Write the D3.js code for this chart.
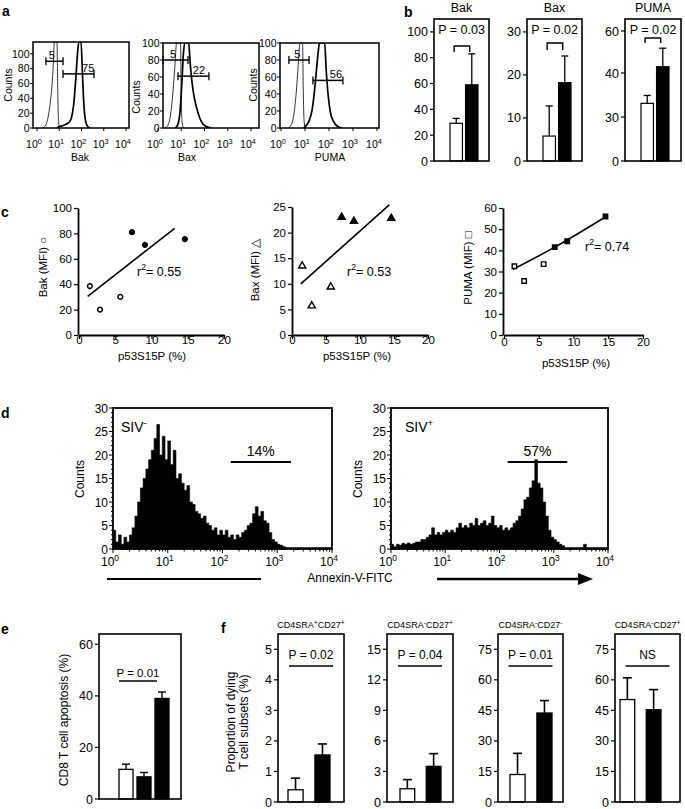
<!DOCTYPE html>
<html><head><meta charset="utf-8">
<script src="https://cdn.jsdelivr.net/npm/d3@7"></script>
<style>
body{margin:0;background:#fff;}
svg{display:block;font-family:"Liberation Sans",Arial,Helvetica,sans-serif;}
</style></head><body>
<svg id="fig" width="685" height="809"></svg>
<script>
// ================= DATA =================
// Panel a: flow histogram outlines, [log10 intensity, counts]
const aMarkers = ["Bak", "Bax", "PUMA"];
const aControlBak = [[0.25,0],[0.4,4],[0.5,15],[0.6,35],[0.68,60],[0.74,90],[0.78,116],[0.9,116],[0.93,55],[0.97,8],[1.02,0]];
const aSampleBak  = [[0.9,0],[1.0,2],[1.15,3],[1.3,5],[1.45,8],[1.55,14],[1.65,32],[1.74,65],[1.82,100],[1.88,116],[1.98,116],[2.04,75],[2.1,35],[2.18,10],[2.28,2],[2.4,0]];
const aControlBax = [[0.3,0],[0.42,3],[0.52,12],[0.62,35],[0.72,70],[0.8,100],[0.97,100],[1.0,35],[1.04,6],[1.1,0]];
const aSampleBax  = [[0.75,0],[0.85,4],[0.95,20],[1.03,55],[1.1,90],[1.15,100],[1.32,100],[1.38,78],[1.48,50],[1.58,33],[1.68,22],[1.78,13],[1.88,7],[2.0,3],[2.15,1],[2.3,0]];
const aControlPuma = [[0.3,0],[0.43,4],[0.53,15],[0.63,40],[0.72,75],[0.79,100],[0.9,100],[0.93,40],[0.97,6],[1.02,0]];
const aSamplePuma  = [[0.95,0],[1.05,3],[1.18,9],[1.3,22],[1.4,45],[1.5,75],[1.56,92],[1.6,100],[1.82,100],[1.88,70],[1.96,40],[2.06,18],[2.18,8],[2.35,2],[2.55,0]];
const aControlGate = [[0.4,1.17,90],[0.22,1.29,80],[0.33,1.17,80]];   // [from, to, level]
const aSampleGate  = [[1.17,2.56,73],[0.86,2.19,61],[1.33,2.58,56]];
const aControlPct = ["5","5","5"];
const aSamplePct  = ["75","22","56"];
const aControlPctAt = [0.67,0.65,0.68];
const aSamplePctAt  = [2.3,1.76,2.29];
const aYTicks = [0,20,40,60,80,100];
const aXTicks = [0,1,2,3,4];

// Panel b: mean MFI, SIV- (white) vs SIV+ (black)
const bTitles = ["Bak", "Bax", "PUMA"];
const bWhite   = [29.2, 5.8, 33.1];
const bWhiteSd = [3.8, 7.0, 1.8];
const bBlack   = [59, 18.2, 43];
const bBlackSd = [24, 6.2, 8.8];
const bP = ["P = 0.03", "P = 0.02", "P = 0.02"];
const bTicks = [[0,20,40,60,80,100],[0,10,20,30],[0,30,40,60]];

// Panel c: p53S15P (%) vs MFI
const cP53  = [1.5, 2.9, 5.7, 7.3, 9.1, 14.6];
const cBak  = [38.5, 20, 30, 81, 71, 75.5];
const cBax  = [13.5, 5.7, 9.4, 23, 22.2, 22.8];
const cPuma = [32.5, 25.5, 33.5, 41.5, 44.3, 56];
const cFilled = [false, false, false, true, true, true];
const cFitBak  = [[1.2,30.5],[13.2,84]];
const cFitBax  = [[1.3,10],[14.3,25.4]];
const cFitPuma = [[1.3,31],[7.3,41.5],[14.7,56]];
const cR2 = ["0.55", "0.53", "0.74"];
const cYLabels = ["Bak (MFI) \u25CB", "Bax (MFI) \u25B3", "PUMA (MIF) \u25A1"];
const cYTicks = [[0,20,40,60,80,100],[0,5,10,15,20,25],[0,10,20,30,40,50,60]];
const cXTicks = [0,5,10,15,20];

// Panel d: Annexin-V histograms, counts per 0.05 log10 bin from 10^0
const dSIVneg = [4,1.5,3,1,2.5,1.5,3,4.5,7,10,13,15,17,19,21,23.5,26.5,20,24,19,23,18,21,15,16,14,12.5,13.5,10,9.5,
  8,7.5,6.5,7,5.5,5,4,4.5,3,4,3,4,2.5,3,2,3,2.5,3.5,4,5,5.5,7.5,9,7,8,6,5.5,3.5,2,1.5,
  1,0.8,0.5,0.3,0.3,0.3,0.3,0.3,0.3,0.3,0.3,0.3,0.3,0.3,0.3,0.3,0.3,0.3,0.3,0.3];
const dSIVpos = [1,0.5,1,0.8,1.2,1,1.3,1,1.2,1.5,1.5,2,2,2.5,3,4.5,3,3.5,3,3.5,4,3.5,4,3.5,4.5,5.5,4.5,5,4.5,5.5,
  5,6.5,5,5.5,6,5,5.5,7,5,4.5,5,4,4.5,4,4.5,5.5,6,7,8.5,10.5,11,13,14.5,19,14,13,10,7,4,2.5,
  2,1.5,1,0.7,0.3,0.3,0.3,0.3,0.3,0.3,0.3,1,0.3,0.3,0.3,0.3,0.3,0.3,0.3,0.3];
const dPct = ["14%", "57%"];
const dGate = [[2.15,3.25],[2.15,3.25]];
const dYTicks = [0,5,10,15,20,25,30];

// Panel e: CD8 T cell apoptosis (%)
const eGroups = ["SIV-", "SIV+ A", "SIV+ B"];
const eValues = [11.5, 8.6, 39];
const eSd = [2, 1.7, 2.5];
const eTicks = [0,20,40,60];

// Panel f: proportion of dying T cell subsets (%)
const fTitles = [["CD4SRA","+","CD27","+"],["CD4SRA","-","CD27","+"],["CD4SRA","-","CD27","-"],["CD4SRA","-","CD27","+"]];
const fWhite   = [0.4, 1.3, 13.5, 50.3];
const fWhiteSd = [0.38, 0.9, 10.4, 10.7];
const fBlack   = [1.54, 3.5, 43.7, 45.3];
const fBlackSd = [0.36, 1.25, 6.1, 9.9];
const fP = ["P = 0.02", "P = 0.04", "P = 0.01", "NS"];
const fTicks = [[0,1,2,3,4,5],[0,3,6,9,12,15],[0,15,30,45,60,75],[0,15,30,45,60,75]];
const fMax = [5.5, 16.5, 82.5, 82.5];

// ================= DRAWING =================
const FONT = '"Liberation Sans", Arial, Helvetica, sans-serif';
const svg = d3.select("#fig");
const defs = svg.append("defs");

function text(x, y, s, size, o = {}) {
  const t = svg.append("text").attr("x", x).attr("y", y).attr("font-size", size)
    .attr("text-anchor", o.anchor || "start").attr("fill", "#000").text(s);
  if (o.bold) t.attr("font-weight", "bold");
  if (o.rotate) t.attr("transform", `rotate(-90,${x},${y})`);
  return t;
}
function rich(x, y, parts, size, anchor, sup = 0.7, shift = 0.4) {
  const t = svg.append("text").attr("x", x).attr("y", y).attr("font-size", size)
    .attr("text-anchor", anchor || "start");
  let up = false;
  parts.forEach(p => {
    const isSup = typeof p === "object";
    const s = isSup ? p.sup : p;
    const sp = t.append("tspan").text(s);
    if (isSup) { sp.attr("font-size", size * sup).attr("dy", -size * shift); up = true; }
    else if (up) { sp.attr("dy", size * shift); up = false; }
  });
  return t;
}
function line(x1, y1, x2, y2, w = 1.5) {
  svg.append("line").attr("x1", x1).attr("y1", y1).attr("x2", x2).attr("y2", y2)
    .attr("stroke", "#000").attr("stroke-width", w);
}
function frame(x0, y0, x1, y1, w = 1.6) {
  svg.append("rect").attr("x", x0).attr("y", y0).attr("width", x1 - x0).attr("height", y1 - y0)
    .attr("fill", "none").attr("stroke", "#000").attr("stroke-width", w);
}
function styleAxis(g, size) {
  g.attr("font-size", size).attr("font-family", FONT);
  g.selectAll("text").attr("fill", "#000");
  g.selectAll(".tick line").attr("stroke", "#000").attr("stroke-width", 1.2);
  g.selectAll(".domain").attr("stroke", "#000").attr("stroke-width", 1.8);
}

// panel letters
[["a",2,16],["b",404,17],["c",1,217],["d",1,418],["e",1,634],["f",221,633]].forEach(([l,x,y]) =>
  text(x, y, l, 14, {bold: true}));

// ---------- Panel a ----------
const aLayout = [
  {fx0:33, fx1:129, fy0:42, fy1:128, xr:[37,126], ymax:116, cx:12, cy:85, lx:80},
  {fx0:163, fx1:259, fy0:43, fy1:128, xr:[158,251], ymax:100, cx:140, cy:97, lx:187},
  {fx0:280, fx1:379, fy0:43, fy1:128, xr:[281,377], ymax:100, cx:257, cy:85, lx:330}
];
const aCurves = [[aControlBak, aSampleBak],[aControlBax, aSampleBax],[aControlPuma, aSamplePuma]];
aLayout.forEach((L, i) => {
  const xs = d3.scaleLinear().domain([0, 4]).range(L.xr);
  const ys = d3.scaleLinear().domain([0, L.ymax]).range([L.fy1, L.fy0]);
  const cid = "clipA" + i;
  defs.append("clipPath").attr("id", cid).append("rect")
    .attr("x", L.fx0).attr("y", L.fy0).attr("width", L.fx1 - L.fx0).attr("height", L.fy1 - L.fy0);
  const ln = d3.line().x(d => xs(d[0])).y(d => ys(d[1])).curve(d3.curveMonotoneX);
  svg.append("path").attr("d", ln(aCurves[i][0])).attr("clip-path", `url(#${cid})`)
    .attr("fill", "none").attr("stroke", "#333").attr("stroke-width", 1);
  svg.append("path").attr("d", ln(aCurves[i][1])).attr("clip-path", `url(#${cid})`)
    .attr("fill", "none").attr("stroke", "#000").attr("stroke-width", 1.7);
  frame(L.fx0, L.fy0, L.fx1, L.fy1, 1.5);
  aYTicks.forEach(v => {
    line(L.fx0 - 3, ys(v), L.fx0, ys(v), 1);
    text(L.fx0 - 3.5, ys(v) + 3.8, String(v), 10.5, {anchor: "end"});
  });
  aXTicks.forEach(k => {
    line(xs(k), L.fy1, xs(k), L.fy1 + 3, 1);
    rich(xs(k) - 3, 148, ["10", {sup: String(k)}], 10.5, "middle");
  });
  text(L.cx, L.cy, "Counts", 10.5, {anchor: "middle", rotate: true});
  text(L.lx, 161, aMarkers[i], 10.5, {anchor: "middle"});
  [[aControlGate[i], aControlPct[i], aControlPctAt[i]], [aSampleGate[i], aSamplePct[i], aSamplePctAt[i]]]
    .forEach(([g, pct, at]) => {
      const gy = ys(g[2]);
      line(xs(g[0]), gy, xs(g[1]), gy, 1.5);
      line(xs(g[0]), gy - 4, xs(g[0]), gy + 4, 1.3);
      line(xs(g[1]), gy - 4, xs(g[1]), gy + 4, 1.3);
      text(xs(at), gy - 2, pct, 11, {anchor: "middle"});
    });
});

// ---------- Panel b ----------
const bLayout = [
  {x0:434, x1:489, by:46, bh:6},
  {x0:527, x1:582, by:43, bh:7},
  {x0:625, x1:681, by:38, bh:5}
];
const bScales = [
  d3.scaleLinear().domain([0, 110]).range([161, 19]),
  d3.scaleLinear().domain([0, 33]).range([161, 19]),
  d3.scaleLinear().domain([0, 30, 40, 60]).range([161, 117, 73, 31])
];
bLayout.forEach((L, i) => {
  const ys = bScales[i];
  const xb = d3.scaleBand().domain(["SIV-", "SIV+"]).range([L.x0 + 16, L.x0 + 44]).paddingInner(0.2);
  const bw = xb.bandwidth();
  const vals = [[bWhite[i], bWhiteSd[i], "#fff"], [bBlack[i], bBlackSd[i], "#000"]];
  ["SIV-", "SIV+"].forEach((k, j) => {
    const [v, sd, col] = vals[j];
    const cx = xb(k) + bw / 2;
    line(cx, ys(v), cx, ys(v + sd), 1.3);
    line(cx - 3.5, ys(v + sd), cx + 3.5, ys(v + sd), 1.3);
    svg.append("rect").attr("x", xb(k)).attr("y", ys(v)).attr("width", bw).attr("height", ys(0) - ys(v))
      .attr("fill", col).attr("stroke", "#000").attr("stroke-width", 1.2);
  });
  frame(L.x0, 19, L.x1, 161, 1.6);
  bTicks[i].forEach(v => {
    line(L.x0 - 4, ys(v), L.x0, ys(v), 1.2);
    text(L.x0 - 6, ys(v) + 4.5, String(v), 12.5, {anchor: "end"});
  });
  const cxm = (L.x0 + L.x1) / 2;
  text(cxm, 12, bTitles[i], 12.5, {anchor: "middle"});
  text(cxm, 34, bP[i], 12.5, {anchor: "middle"});
  const a1 = xb("SIV-") + bw / 3, a2 = xb("SIV+") + bw / 3;
  svg.append("path").attr("d", `M${a1},${L.by + L.bh}V${L.by}H${a2}V${L.by + L.bh}`)
    .attr("fill", "none").attr("stroke", "#000").attr("stroke-width", 1.4);
});

// ---------- Panel c ----------
const cLayout = [
  {ax:78, xr:[79, 224], top:208, ylx:47, yly:267, lblx:152, lbly:360, tly:350, r2x:137, r2y:276},
  {ax:292, xr:[292, 428], top:207, ylx:259, yly:270, lblx:357, lbly:360, tly:350, r2x:347, r2y:276},
  {ax:503, xr:[504, 643], top:208, ylx:472, yly:268, lblx:576, lbly:367, tly:352, r2x:585, r2y:251}
];
const cY = [cBak, cBax, cPuma];
const cFits = [cFitBak, cFitBax, cFitPuma];
const cYMax = [100, 25, 60];
cLayout.forEach((L, i) => {
  const xs = d3.scaleLinear().domain([0, 20]).range(L.xr);
  const ys = d3.scaleLinear().domain([0, cYMax[i]]).range([335, L.top]);
  const gx = svg.append("g").attr("transform", "translate(0,335)")
    .call(d3.axisBottom(xs).tickValues(cXTicks).tickSize(4).tickSizeOuter(0).tickPadding(2));
  styleAxis(gx, 11.5);
  gx.selectAll("text").attr("dy", L.tly - 335 - 12);
  const gy = svg.append("g").attr("transform", `translate(${L.ax},0)`)
    .call(d3.axisLeft(ys).tickValues(cYTicks[i]).tickSize(4).tickSizeOuter(0).tickPadding(2));
  styleAxis(gy, 11.5);
  text(L.lblx, L.lbly, "p53S15P (%)", 11.5, {anchor: "middle"});
  text(L.ylx, L.yly, cYLabels[i], 11.5, {anchor: "middle", rotate: true});
  const fit = d3.line().x(d => xs(d[0])).y(d => ys(d[1])).curve(d3.curveMonotoneX);
  svg.append("path").attr("d", fit(cFits[i])).attr("fill", "none").attr("stroke", "#000").attr("stroke-width", 1.6);
  const sym = [d3.symbolCircle, d3.symbolTriangle, d3.symbolSquare][i];
  const size = [18, 22, 20][i];
  cP53.forEach((x, j) => {
    svg.append("path").attr("d", d3.symbol().type(sym).size(size)())
      .attr("transform", `translate(${xs(x)},${ys(cY[i][j])})`)
      .attr("fill", cFilled[j] ? "#000" : "#fff").attr("stroke", "#000").attr("stroke-width", 1.4);
  });
  rich(L.r2x, L.r2y, ["r", {sup: "2"}, "= " + cR2[i]], 12.5, "start", 0.7, 0.45);
});

// ---------- Panel d ----------
const dLayout = [
  {x0:113, x1:332, cx:84, sivx:121, name:"SIV", sgn:"-"},
  {x0:391, x1:608, cx:362, sivx:405, name:"SIV", sgn:"+"}
];
const dData = [dSIVneg, dSIVpos];
const dBins = d3.range(dSIVneg.length).map(i => i * 0.05);
dLayout.forEach((L, i) => {
  const xs = d3.scaleLinear().domain([0, 4]).range([L.x0, L.x1]);
  const ys = d3.scaleLinear().domain([0, 30]).range([549, 408]);
  const pts = dData[i].map((v, j) => [dBins[j], v]);
  pts.push([4, dData[i][dData[i].length - 1]]);
  const area = d3.area().curve(d3.curveStepAfter).x(d => xs(d[0])).y0(ys(0)).y1(d => ys(d[1]));
  svg.append("path").attr("d", area(pts)).attr("fill", "#000").attr("stroke", "#000").attr("stroke-width", 0.6);
  frame(L.x0, 408, L.x1, 549, 1.8);
  d3.range(0, 31).forEach(v => line(L.x0 - (v % 5 === 0 ? 4 : 2), ys(v), L.x0, ys(v), 1));
  dYTicks.forEach(v => text(L.x0 - 5, ys(v) + 4.5, String(v), 12, {anchor: "end"}));
  [0, 1, 2, 3].forEach(k => {
    for (let m = 1; m < 10; m++) {
      const lv = k + Math.log10(m);
      line(xs(lv), 549, xs(lv), 549 + (m === 1 ? 4 : 2.5), 1);
    }
  });
  line(xs(4), 549, xs(4), 553, 1);
  [0, 1, 2, 3, 4].forEach(k => rich(xs(k) - 3, 566, ["10", {sup: String(k)}], 12, "middle"));
  text(L.cx, 479, "Counts", 12, {anchor: "middle", rotate: true});
  rich(L.sivx, 432, [L.name, {sup: L.sgn}], 14, "start", 0.7, 0.4);
  const g = dGate[i];
  line(xs(g[0]), 462, xs(g[1]), 462, 2);
  text((xs(g[0]) + xs(g[1])) / 2, 456, dPct[i], 14, {anchor: "middle"});
});
text(350, 582, "Annexin-V-FITC", 12, {anchor: "middle"});
line(107, 579, 261, 579, 2);
line(437, 579, 580, 579, 2.4);
svg.append("path").attr("d", "M578,573L593,579L578,585Z").attr("fill", "#000");

// ---------- Panel e ----------
{
  const x0 = 99, x1 = 181, y0 = 634, y1 = 799;
  const ys = d3.scaleLinear().domain([0, 64]).range([y1, y0]);
  const xb = d3.scaleBand().domain(eGroups).range([119, 169]).paddingInner(0.22);
  const bw = xb.bandwidth();
  eGroups.forEach((k, j) => {
    const v = eValues[j], sd = eSd[j], cx = xb(k) + bw / 2;
    line(cx, ys(v), cx, ys(v + sd), 1.4);
    line(cx - 4, ys(v + sd), cx + 4, ys(v + sd), 1.4);
    svg.append("rect").attr("x", xb(k)).attr("y", ys(v)).attr("width", bw).attr("height", ys(0) - ys(v))
      .attr("fill", j === 0 ? "#fff" : "#000").attr("stroke", "#000").attr("stroke-width", 1.3);
  });
  frame(x0, y0, x1, y1, 1.6);
  eTicks.forEach(v => {
    line(x0 - 4, ys(v), x0, ys(v), 1.2);
    text(x0 - 6, ys(v) + 4.5, String(v), 12.5, {anchor: "end"});
  });
  text(138, 677, "P = 0.01", 11.5, {anchor: "middle"});
  line(119, 681, 157, 681, 1.4);
  text(68, 720, "CD8 T cell apoptosis (%)", 12, {anchor: "middle", rotate: true});
}

// ---------- Panel f ----------
const fLayout = [
  {x0:278, x1:344, b0:288, b1:330},
  {x0:387, x1:453, b0:400, b1:441},
  {x0:498, x1:563, b0:510, b1:552},
  {x0:615, x1:680, b0:620, b1:661}
];
fLayout.forEach((L, i) => {
  const ys = d3.scaleLinear().domain([0, fMax[i]]).range([802, 634]);
  const xb = d3.scaleBand().domain(["SIV-", "SIV+"]).range([L.b0, L.b1]).paddingInner(0.44);
  const bw = xb.bandwidth();
  const vals = [[fWhite[i], fWhiteSd[i], "#fff"], [fBlack[i], fBlackSd[i], "#000"]];
  ["SIV-", "SIV+"].forEach((k, j) => {
    const [v, sd, col] = vals[j];
    const cx = xb(k) + bw / 2;
    line(cx, ys(v), cx, ys(v + sd), 1.6);
    line(cx - 4.5, ys(v + sd), cx + 4.5, ys(v + sd), 1.6);
    svg.append("rect").attr("x", xb(k)).attr("y", ys(v)).attr("width", bw).attr("height", ys(0) - ys(v))
      .attr("fill", col).attr("stroke", "#000").attr("stroke-width", 1.3);
  });
  frame(L.x0, 634, L.x1, 802, 1.6);
  fTicks[i].forEach(v => {
    line(L.x0 - 4, ys(v), L.x0, ys(v), 1.2);
    text(L.x0 - 6, ys(v) + 4.5, String(v), 12.5, {anchor: "end"});
  });
  const cxm = (L.x0 + L.x1) / 2;
  const t = fTitles[i];
  rich(cxm, 628, [t[0], {sup: t[1]}, t[2], {sup: t[3]}], 9, "middle", 0.75, 0.35);
  text(cxm, 659, fP[i], 12, {anchor: "middle"});
  line(cxm - 22, 666, cxm + 22, 666, 1.3);
});
text(235, 722, "Proportion of dying", 12, {anchor: "middle", rotate: true});
text(248, 722, "T cell subsets (%)", 12, {anchor: "middle", rotate: true});
</script></body></html>
